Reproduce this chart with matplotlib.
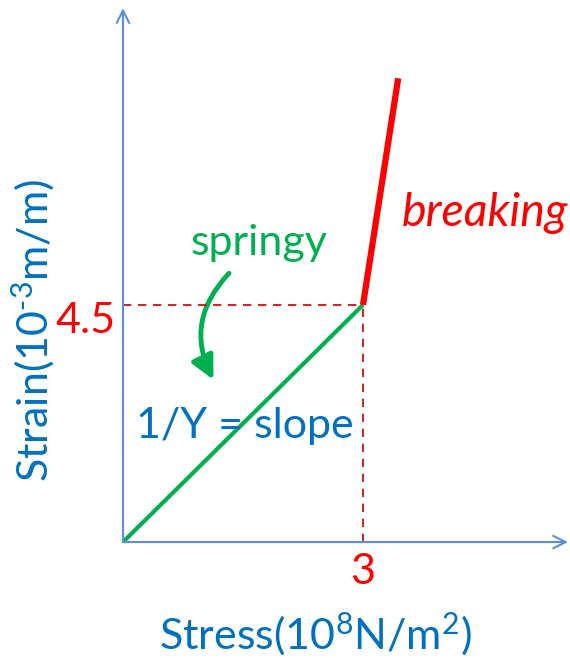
import matplotlib.pyplot as plt
from matplotlib.patches import FancyArrowPatch

plt.rcParams['font.family'] = ['Lato', 'DejaVu Sans']
plt.rcParams['mathtext.fontset'] = 'custom'
plt.rcParams['mathtext.rm'] = 'Lato'
plt.rcParams['mathtext.it'] = 'Lato:italic'

# stress (1e8 N/m^2) vs strain (1e-3 m/m)
springy_x = [0, 3]
springy_y = [0, 4.5]
breaking_x = [3, 3.44]
breaking_y = [4.5, 8.8]
yield_stress = 3
yield_strain = 4.5

axis_blue = '#5B8FD6'
text_blue = '#0070C0'
red = '#FF0000'
dark_red = '#C00000'
green = '#00B050'

fig = plt.figure(figsize=(5.7, 6.58), dpi=100)
ax = fig.add_axes([0, 0, 1, 1])
ax.set_xlim(-1.5375, 5.5875)
ax.set_ylim(-2.20, 10.285)
ax.axis('off')

# axes with open arrowheads
arrow_kw = dict(arrowstyle='->,head_length=0.9,head_width=0.45', color=axis_blue, lw=1.5,
                shrinkA=0, shrinkB=0)
ax.annotate('', xy=(0, 10.13), xytext=(0, 0), arrowprops=arrow_kw)
ax.annotate('', xy=(5.5625, 0), xytext=(0, 0), arrowprops=arrow_kw)

# guide lines to the yield point
ax.plot([0, yield_stress], [yield_strain, yield_strain], color=dark_red, lw=1.2,
        ls=(0, (5, 4)))
ax.plot([yield_stress, yield_stress], [0, yield_strain], color=dark_red, lw=1.2,
        ls=(0, (5, 4)))

ax.plot(springy_x, springy_y, color=green, lw=3, solid_capstyle='butt')
ax.plot(breaking_x, breaking_y, color=red, lw=4.5, solid_capstyle='butt')

fs = 31
ax.text(-0.09, 4.2, '4.5', color=red, fontsize=fs, ha='right', va='center')
ax.text(yield_stress, -0.57, '3', color=red, fontsize=fs, ha='center', va='center')
ax.text(1.7, 5.67, 'springy', color=green, fontsize=fs, ha='center', va='center')
ax.text(4.52, 6.24, 'breaking', color=red, fontsize=33.5, ha='center', va='center',
        style='italic')
ax.text(1.525, 2.2, '1/Y = slope', color=text_blue, fontsize=fs, ha='center', va='center')
ax.text(2.41, -1.76, r'Stress(10$^{8}$N/m$^{2}$)', color=text_blue, fontsize=fs,
        ha='center', va='center')
ax.text(-1.125, 4.02, 'Strain(10$^{\u2010 3}$m/m)', color=text_blue, fontsize=fs,
        ha='center', va='center', rotation=90)

# curved pointer from the label down to the line
curve = FancyArrowPatch((1.325, 5.10), (1.13, 3.08),
                        connectionstyle='arc3,rad=0.35',
                        arrowstyle='-|>,head_length=1.4,head_width=0.7',
                        color=green, lw=3.5, mutation_scale=10, shrinkA=0, shrinkB=0)
ax.add_patch(curve)

fig.savefig('out.png', dpi=100)
